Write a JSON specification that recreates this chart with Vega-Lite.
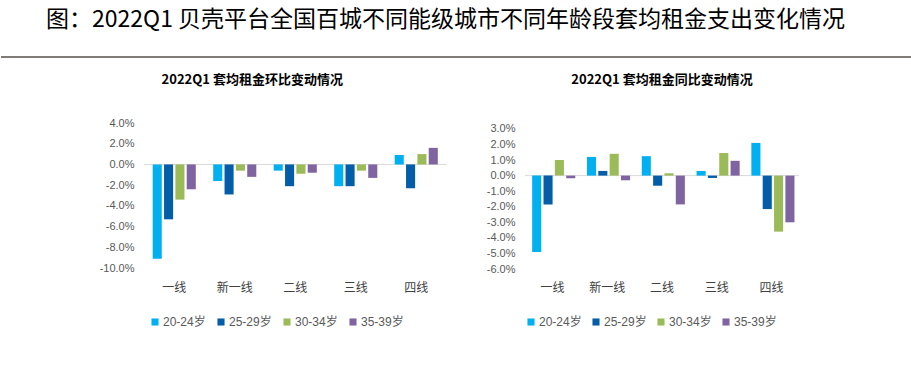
{
  "$schema": "https://vega.github.io/schema/vega-lite/v6.json",
  "padding": {"left": 0, "top": 9, "right": 0, "bottom": 0},
  "background": "white",
  "title": {
    "text": "图：2022Q1 贝壳平台全国百城不同能级城市不同年龄段套均租金支出变化情况",
    "anchor": "start",
    "dx": 46,
    "offset": 24,
    "fontSize": 23,
    "fontWeight": "normal",
    "font": "Noto Sans CJK SC",
    "color": "#000000"
  },
  "datasets": {
    "hb": [
      {"city": "一线", "age": "20-24岁", "value": -0.091},
      {"city": "一线", "age": "25-29岁", "value": -0.053},
      {"city": "一线", "age": "30-34岁", "value": -0.034},
      {"city": "一线", "age": "35-39岁", "value": -0.024},
      {"city": "新一线", "age": "20-24岁", "value": -0.016},
      {"city": "新一线", "age": "25-29岁", "value": -0.029},
      {"city": "新一线", "age": "30-34岁", "value": -0.006},
      {"city": "新一线", "age": "35-39岁", "value": -0.012},
      {"city": "二线", "age": "20-24岁", "value": -0.006},
      {"city": "二线", "age": "25-29岁", "value": -0.021},
      {"city": "二线", "age": "30-34岁", "value": -0.009},
      {"city": "二线", "age": "35-39岁", "value": -0.008},
      {"city": "三线", "age": "20-24岁", "value": -0.021},
      {"city": "三线", "age": "25-29岁", "value": -0.021},
      {"city": "三线", "age": "30-34岁", "value": -0.006},
      {"city": "三线", "age": "35-39岁", "value": -0.013},
      {"city": "四线", "age": "20-24岁", "value": 0.009},
      {"city": "四线", "age": "25-29岁", "value": -0.023},
      {"city": "四线", "age": "30-34岁", "value": 0.010},
      {"city": "四线", "age": "35-39岁", "value": 0.016}
    ],
    "tb": [
      {"city": "一线", "age": "20-24岁", "value": -0.049},
      {"city": "一线", "age": "25-29岁", "value": -0.0185},
      {"city": "一线", "age": "30-34岁", "value": 0.010},
      {"city": "一线", "age": "35-39岁", "value": -0.0017},
      {"city": "新一线", "age": "20-24岁", "value": 0.012},
      {"city": "新一线", "age": "25-29岁", "value": 0.003},
      {"city": "新一线", "age": "30-34岁", "value": 0.014},
      {"city": "新一线", "age": "35-39岁", "value": -0.003},
      {"city": "二线", "age": "20-24岁", "value": 0.0125},
      {"city": "二线", "age": "25-29岁", "value": -0.0065},
      {"city": "二线", "age": "30-34岁", "value": 0.0015},
      {"city": "二线", "age": "35-39岁", "value": -0.0185},
      {"city": "三线", "age": "20-24岁", "value": 0.003},
      {"city": "三线", "age": "25-29岁", "value": -0.0015},
      {"city": "三线", "age": "30-34岁", "value": 0.0145},
      {"city": "三线", "age": "35-39岁", "value": 0.0095},
      {"city": "四线", "age": "20-24岁", "value": 0.021},
      {"city": "四线", "age": "25-29岁", "value": -0.0215},
      {"city": "四线", "age": "30-34岁", "value": -0.036},
      {"city": "四线", "age": "35-39岁", "value": -0.030}
    ]
  },
  "spacing": 15,
  "vconcat": [
    {
      "width": 625,
      "height": 1,
      "data": {"values": [{"a": 0, "b": 1}]},
      "mark": {"type": "rule", "color": "#7f7b76", "strokeWidth": 2},
      "encoding": {
        "x": {"field": "a", "type": "quantitative", "scale": {"domain": [0, 1], "range": [-143, 768]}, "axis": null},
        "x2": {"field": "b"},
        "y": {"datum": 0, "type": "quantitative", "scale": {"domain": [0, 1]}, "axis": null}
      }
    },
    {
      "spacing": 38,
      "resolve": {"legend": {"color": "independent"}},
      "hconcat": [
        {
          "width": 302.5,
          "height": 145,
          "title": {"text": "2022Q1 套均租金环比变动情况", "dx": -43, "offset": 30},
          "layer": [
            {
              "data": {"values": [{}]},
              "mark": {"type": "rule", "color": "#D9D9D9", "strokeWidth": 1},
              "encoding": {
                "y": {
                  "datum": 0, "type": "quantitative",
                  "scale": {"domain": [-0.1, 0.04], "nice": false, "zero": false},
                  "axis": {"title": null, "values": [-0.1, -0.08, -0.06, -0.04, -0.02, 0, 0.02, 0.04], "format": ".1%", "labelExpr": "replace(datum.label, '−', '-')", "labelOverlap": false, "grid": false, "domain": false, "ticks": false, "labelPadding": 10, "labelFontSize": 11, "labelColor": "#595959", "labelFont": "Liberation Sans", "minExtent": 40, "maxExtent": 40}
                }
              }
            },
            {
              "data": {"name": "hb"},
              "mark": {"type": "bar"},
              "encoding": {
                "x": {
                  "field": "city", "type": "nominal",
                  "sort": ["一线", "新一线", "二线", "三线", "四线"],
                  "scale": {"paddingInner": 0.25, "paddingOuter": 0.125},
                  "axis": {"title": null, "labelAngle": 0, "domain": false, "ticks": false, "labelPadding": 14, "labelFontSize": 12, "labelColor": "#404040", "labelFont": "Noto Sans CJK SC"}
                },
                "xOffset": {
                  "field": "age", "type": "nominal",
                  "scale": {"paddingInner": 0.2, "paddingOuter": 0.1}
                },
                "y": {
                  "field": "value", "type": "quantitative",
                  "scale": {"domain": [-0.1, 0.04], "nice": false, "zero": false},
                  "axis": {"title": null, "values": [-0.1, -0.08, -0.06, -0.04, -0.02, 0, 0.02, 0.04], "format": ".1%", "labelExpr": "replace(datum.label, '−', '-')", "labelOverlap": false, "grid": false, "domain": false, "ticks": false, "labelPadding": 10, "labelFontSize": 11, "labelColor": "#595959", "labelFont": "Liberation Sans", "minExtent": 40, "maxExtent": 40}
                },
                "color": {
                  "field": "age", "type": "nominal",
                  "scale": {"domain": ["20-24岁", "25-29岁", "30-34岁", "35-39岁"], "range": ["#00B0F0", "#035DA8", "#9BBB59", "#8064A2"]},
                  "legend": {"title": null, "orient": "bottom", "direction": "horizontal", "symbolType": "square", "symbolSize": 50, "symbolStrokeWidth": 0, "labelFontSize": 12, "labelColor": "#595959", "labelFont": "Liberation Sans, Noto Sans CJK SC", "columnPadding": 9, "labelOffset": 2, "padding": 5, "offset": 18}
                }
              }
            }
          ]
        },
        {
          "width": 274,
          "height": 146,
          "title": {"text": "2022Q1 套均租金同比变动情况", "dx": 0, "offset": 36},
          "layer": [
            {
              "data": {"values": [{}]},
              "mark": {"type": "rule", "color": "#D9D9D9", "strokeWidth": 1},
              "encoding": {
                "y": {
                  "datum": 0, "type": "quantitative",
                  "scale": {"domain": [-0.06, 0.0338], "nice": false, "zero": false},
                  "axis": {"title": null, "values": [-0.06, -0.05, -0.04, -0.03, -0.02, -0.01, 0, 0.01, 0.02, 0.03], "format": ".1%", "labelExpr": "replace(datum.label, '−', '-')", "labelOverlap": false, "grid": false, "domain": false, "ticks": false, "labelPadding": 10, "labelFontSize": 11, "labelColor": "#595959", "labelFont": "Liberation Sans", "minExtent": 40, "maxExtent": 40}
                }
              }
            },
            {
              "data": {"name": "tb"},
              "mark": {"type": "bar"},
              "encoding": {
                "x": {
                  "field": "city", "type": "nominal",
                  "sort": ["一线", "新一线", "二线", "三线", "四线"],
                  "scale": {"paddingInner": 0.22, "paddingOuter": 0.11},
                  "axis": {"title": null, "labelAngle": 0, "domain": false, "ticks": false, "labelPadding": 13, "labelFontSize": 12, "labelColor": "#404040", "labelFont": "Noto Sans CJK SC"}
                },
                "xOffset": {
                  "field": "age", "type": "nominal",
                  "scale": {"paddingInner": 0.22, "paddingOuter": 0.11}
                },
                "y": {
                  "field": "value", "type": "quantitative",
                  "scale": {"domain": [-0.06, 0.0338], "nice": false, "zero": false},
                  "axis": {"title": null, "values": [-0.06, -0.05, -0.04, -0.03, -0.02, -0.01, 0, 0.01, 0.02, 0.03], "format": ".1%", "labelExpr": "replace(datum.label, '−', '-')", "labelOverlap": false, "grid": false, "domain": false, "ticks": false, "labelPadding": 10, "labelFontSize": 11, "labelColor": "#595959", "labelFont": "Liberation Sans", "minExtent": 40, "maxExtent": 40}
                },
                "color": {
                  "field": "age", "type": "nominal",
                  "scale": {"domain": ["20-24岁", "25-29岁", "30-34岁", "35-39岁"], "range": ["#00B0F0", "#035DA8", "#9BBB59", "#8064A2"]},
                  "legend": {"title": null, "orient": "bottom", "direction": "horizontal", "symbolType": "square", "symbolSize": 50, "symbolStrokeWidth": 0, "labelFontSize": 12, "labelColor": "#595959", "labelFont": "Liberation Sans, Noto Sans CJK SC", "columnPadding": 8, "labelOffset": 2, "padding": 0, "offset": 23}
                }
              }
            }
          ]
        }
      ]
    }
  ],
  "config": {
    "view": {"stroke": null},
    "axis": {"labelOverlap": false},
    "title": {"fontSize": 13, "fontWeight": "bold", "font": "Noto Sans CJK SC", "color": "#000000"}
  }
}
